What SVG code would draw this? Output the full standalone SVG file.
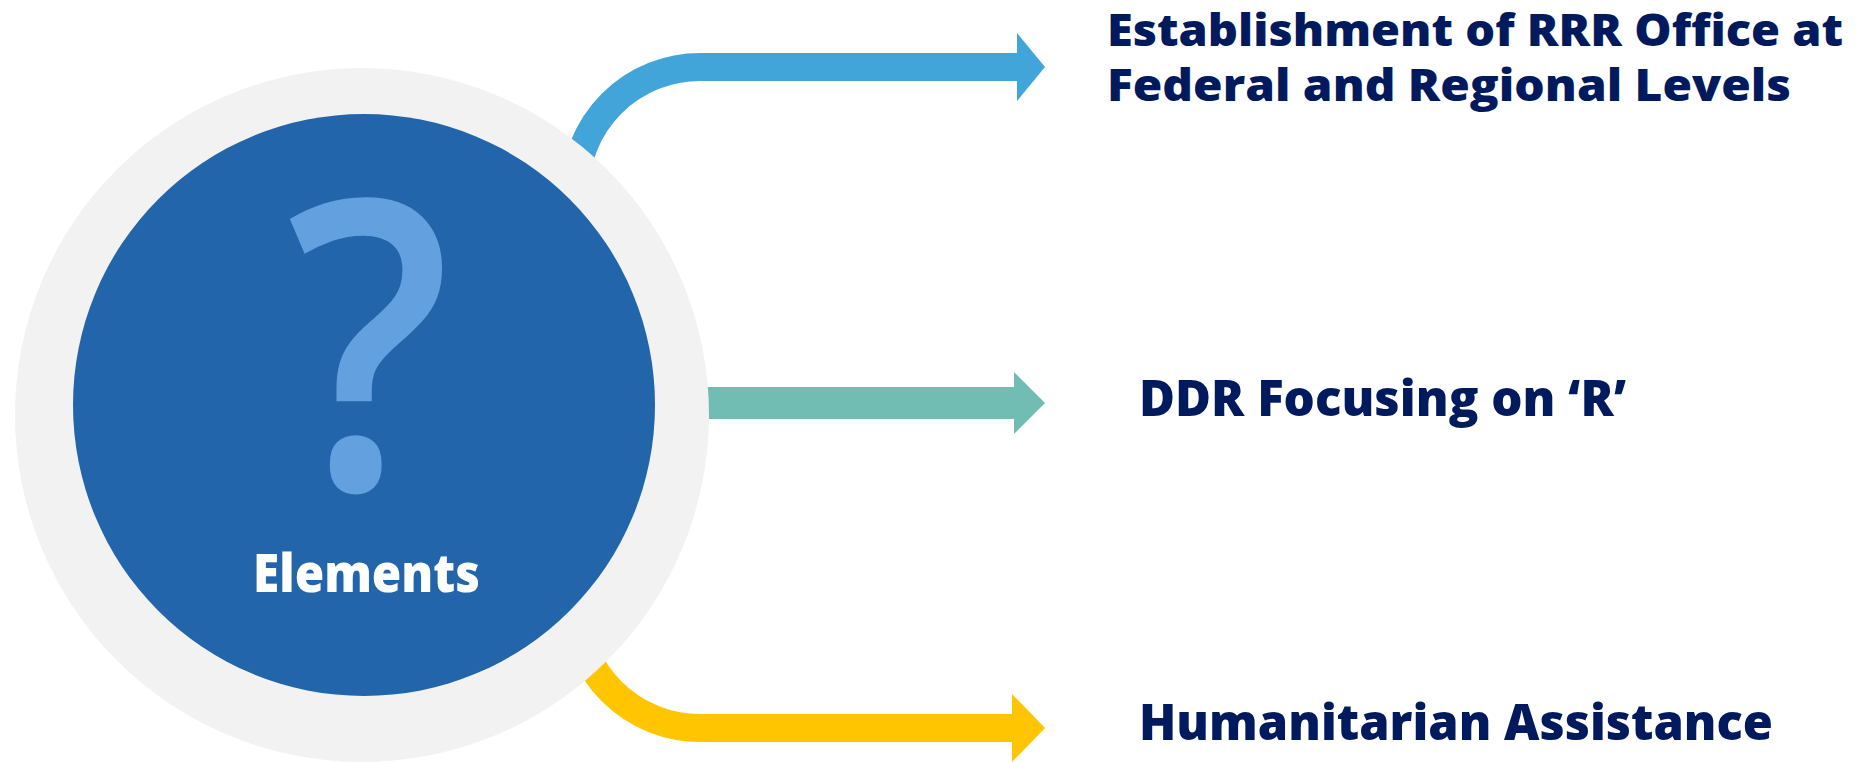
<svg xmlns="http://www.w3.org/2000/svg" width="1864" height="762" viewBox="0 0 1864 762">
  <style>
    .lbl { font-family: "Open Sans", "Liberation Sans", sans-serif; font-weight: 800; fill: #011A5E; }
    .bar { fill: none; stroke-linecap: butt; }
  </style>
  <rect width="1864" height="762" fill="#FFFFFF"/>
  <g id="connectors">
    <path class="bar" d="M 575 192 A 125 125 0 0 1 700 67 L 1018 67" stroke="#42A5DA" stroke-width="28"/>
    <polygon points="1017,33 1045,67 1017,101" fill="#42A5DA"/>
    <path class="bar" d="M 600 403 L 1015 403" stroke="#71BDB4" stroke-width="32"/>
    <polygon points="1014,372 1045,403 1014,434" fill="#71BDB4"/>
    <path class="bar" d="M 575 603 A 125 125 0 0 0 700 728 L 1013 728" stroke="#FFC500" stroke-width="28"/>
    <polygon points="1012,694 1045,728 1012,762" fill="#FFC500"/>
  </g>
  <g id="elements">
    <circle cx="362" cy="415" r="347" fill="#F2F2F2"/>
    <circle cx="364" cy="405" r="291" fill="#2265AA"/>
    <text transform="translate(369 489) scale(0.9 1)" x="0" y="0" text-anchor="middle" font-family="'Open Sans', 'Liberation Sans', sans-serif" font-weight="600" font-size="403" fill="#62A0DF">?</text>
    <text x="253" y="592" font-family="'Open Sans', 'Liberation Sans', sans-serif" font-weight="800" font-size="53" fill="#FFFFFF" textLength="227" lengthAdjust="spacingAndGlyphs">Elements</text>
  </g>
  <g id="node-rrr">
    <text class="lbl" x="1107" y="46" font-size="44" textLength="736" lengthAdjust="spacingAndGlyphs">Establishment of RRR Office at</text>
    <text class="lbl" x="1107" y="101" font-size="44" textLength="684" lengthAdjust="spacingAndGlyphs">Federal and Regional Levels</text>
  </g>
  <g id="node-ddr">
    <text class="lbl" x="1139" y="416" font-size="49" textLength="487" lengthAdjust="spacingAndGlyphs">DDR Focusing on ‘R’</text>
  </g>
  <g id="node-humanitarian">
    <text class="lbl" x="1139" y="740" font-size="49" textLength="634" lengthAdjust="spacingAndGlyphs">Humanitarian Assistance</text>
  </g>
</svg>
